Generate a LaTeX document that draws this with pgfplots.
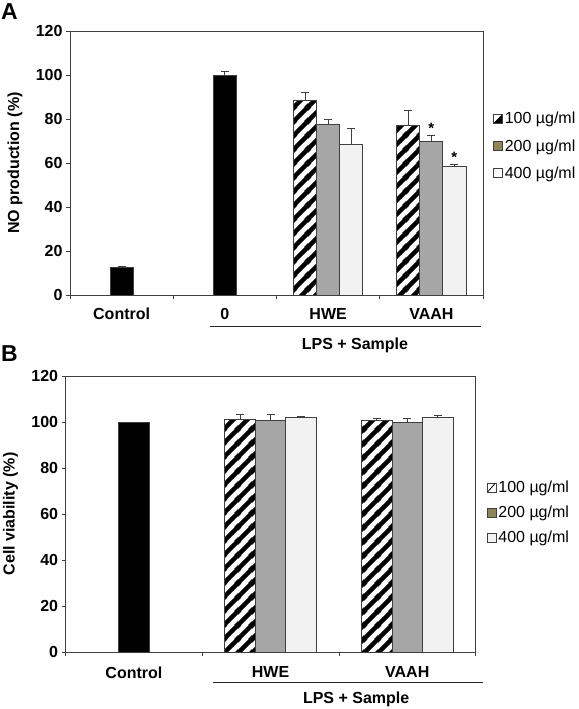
\documentclass[border=0pt]{standalone}
\usepackage{fontspec}
\setmainfont{Liberation Sans}
\usepackage{pgfplots}
\usepackage{pgfplotstable}
\pgfplotsset{compat=1.18}
\usetikzlibrary{patterns.meta}
\definecolor{bargray}{HTML}{A6A6A6}
\definecolor{barlight}{HTML}{F2F2F2}
\definecolor{edge}{HTML}{3F3F3F}
\definecolor{olivebox}{HTML}{8C8558}

\tikzdeclarepattern{
  name=thickstripes,
  type=uncolored,
  bounding box={(0pt,0pt) and (14pt,14pt)},
  tile size={(14pt,14pt)},
  code={
    \draw[line width=4.6pt] (-2pt,-2pt) -- (16pt,16pt);
    \draw[line width=4.6pt] (12pt,-2pt) -- (30pt,16pt);
    \draw[line width=4.6pt] (-16pt,-2pt) -- (2pt,16pt);
  }
}

\pgfplotstableread{
x y e
0 12.5 0.3
1 100 1.5
}\Abase
\pgfplotstableread{
x y e
2 88.5 3.5
3 77.0 6.9
}\Aone
\pgfplotstableread{
x y e
2 77.5 2.2
3 69.8 2.6
}\Atwo
\pgfplotstableread{
x y e
2 68.3 7.3
3 58.5 0.8
}\Afour

\pgfplotstableread{
x y e
0 100 0
}\Bbase
\pgfplotstableread{
x y e
1 101.0 2.5
2 100.7 1.0
}\Bone
\pgfplotstableread{
x y e
1 100.6 2.9
2 100.0 1.5
}\Btwo
\pgfplotstableread{
x y e
1 101.9 0.5
2 101.8 1.2
}\Bfour

\pgfplotsset{
  mybar/.style={draw=edge, line width=0.8pt},
  s0/.style={mybar, fill=black},
  s100/.style={mybar, preaction={fill=white}, pattern=thickstripes, pattern color=black},
  s200/.style={mybar, fill=bargray},
  s400/.style={mybar, fill=barlight},
  common/.style={
    scale only axis, ybar, bar width=0.223, clip=false,
    ymin=0, ymax=120, ytick={0,20,...,120},
    axis line style={edge, line width=0.7pt},
    tick style={edge, line width=0.7pt},
    tick align=outside, major tick length=4pt,
    ytick pos=left, xtick pos=bottom,
    xticklabels={},
    ticklabel style={font=\bfseries\fontsize{16}{18}\selectfont},
    /pgf/number format/assume math mode=true,
    ylabel style={font=\bfseries\fontsize{16}{18}\selectfont, at={(axis description cs:0,0.5)}, anchor=center},
    error bars/y dir=plus, error bars/y explicit,
    error bars/error bar style={edge, line width=0.8pt},
    error bars/error mark options={rotate=90, mark size=4pt, edge, line width=0.8pt},
    extra x tick style={major tick length=0pt},
    legend style={draw=none, fill=none, inner sep=0pt, font=\fontsize{16}{18}\selectfont,
      cells={anchor=west}, legend cell align=left},
  },
  leg100A/.style={legend image code/.code={
      \draw[edge, line width=0.6pt, fill=white] (0pt,-4.5pt) rectangle (9pt,4.5pt);
      \fill[black] (0pt,-4.5pt) -- (9pt,-4.5pt) -- (9pt,4.5pt) -- cycle;
      \draw[edge, line width=0.6pt] (0pt,-4.5pt) rectangle (9pt,4.5pt);}},
  leg100B/.style={legend image code/.code={
      \draw[edge, line width=0.6pt, fill=white] (0pt,-4.5pt) rectangle (9pt,4.5pt);
      \draw[black, line width=0.8pt] (1pt,-4pt) -- (8pt,4pt);}},
  legfill/.style={legend image code/.code={
      \draw[edge, line width=0.6pt, fill=#1] (0pt,-4.5pt) rectangle (9pt,4.5pt);}},
}

\begin{document}
\begin{tikzpicture}
\path[use as bounding box] (0pt,0pt) rectangle (578pt,-709pt);

\node[anchor=north west, inner sep=0pt, font=\bfseries\fontsize{23}{25}\selectfont] at (1pt,-3pt) {A};
\node[anchor=north west, inner sep=0pt, font=\bfseries\fontsize{23}{25}\selectfont] at (1pt,-345pt) {B};

% Panel A
\begin{axis}[common,
  at={(70pt,-295pt)}, anchor=south west,
  width=413pt, height=264pt,
  xmin=-0.5, xmax=3.5,
  xtick={-0.5,0.5,1.5,2.5,3.5},
  extra x ticks={0,1,2,3},
  extra x tick labels={Control,0,HWE,VAAH},
  extra x tick style={major tick length=0pt, xticklabel style={yshift=-9.5pt}},
  ylabel={NO production (\%)},
  ylabel style={yshift=55pt},
  legend style={at={(1,0.70)}, anchor=north west, xshift=10pt, row sep=10pt},
]
\addplot[s0, bar shift=0, forget plot] table[x=x, y=y, y error=e] {\Abase};
\addplot[s100, bar shift=-0.223, forget plot] table[x=x, y=y, y error=e] {\Aone};
\addplot[s200, bar shift=0, forget plot] table[x=x, y=y, y error=e] {\Atwo};
\addplot[s400, bar shift=0.223, forget plot] table[x=x, y=y, y error=e] {\Afour};
\addlegendimage{leg100A}
\addlegendentry{100 µg/ml}
\addlegendimage{legfill=olivebox}
\addlegendentry{200 µg/ml}
\addlegendimage{legfill=white}
\addlegendentry{400 µg/ml}
\node[font=\bfseries\fontsize{15}{17}\selectfont] at (axis cs:3,75.8) {*};
\node[font=\bfseries\fontsize{15}{17}\selectfont] at (axis cs:3.223,62.8) {*};
\draw[black!85, line width=0.9pt] ([yshift=-31.5pt]axis cs:0.856,0) -- ([yshift=-31.5pt]axis cs:3.48,0);
\node[font=\bfseries\fontsize{16}{18}\selectfont] at ([yshift=-50pt]axis cs:2.26,0) {LPS + Sample};
\end{axis}

% Panel B
\begin{axis}[common,
  at={(65.6pt,-652pt)}, anchor=south west,
  width=410pt, height=276pt,
  xmin=-0.5, xmax=2.5,
  xtick={-0.5,0.5,1.5,2.5},
  extra x ticks={0,1,2},
  extra x tick labels={Control,HWE,VAAH},
  extra x tick style={major tick length=0pt, xticklabel style={yshift=-11pt}},
  ylabel={Cell viability (\%)},
  ylabel style={yshift=55pt},
  legend style={at={(1,0.628)}, anchor=north west, xshift=11pt, row sep=8pt},
]
\addplot[s0, bar shift=0, forget plot] table[x=x, y=y] {\Bbase};
\addplot[s100, bar shift=-0.223, forget plot] table[x=x, y=y, y error=e] {\Bone};
\addplot[s200, bar shift=0, forget plot] table[x=x, y=y, y error=e] {\Btwo};
\addplot[s400, bar shift=0.223, forget plot] table[x=x, y=y, y error=e] {\Bfour};
\addlegendimage{leg100B}
\addlegendentry{100 µg/ml}
\addlegendimage{legfill=olivebox}
\addlegendentry{200 µg/ml}
\addlegendimage{legfill=barlight}
\addlegendentry{400 µg/ml}
\draw[black!85, line width=0.9pt] ([yshift=-30pt]axis cs:0.579,0) -- ([yshift=-30pt]axis cs:2.555,0);
\node[font=\bfseries\fontsize{16}{18}\selectfont] at ([yshift=-47pt]axis cs:1.626,0) {LPS + Sample};
\end{axis}
\end{tikzpicture}
\end{document}
